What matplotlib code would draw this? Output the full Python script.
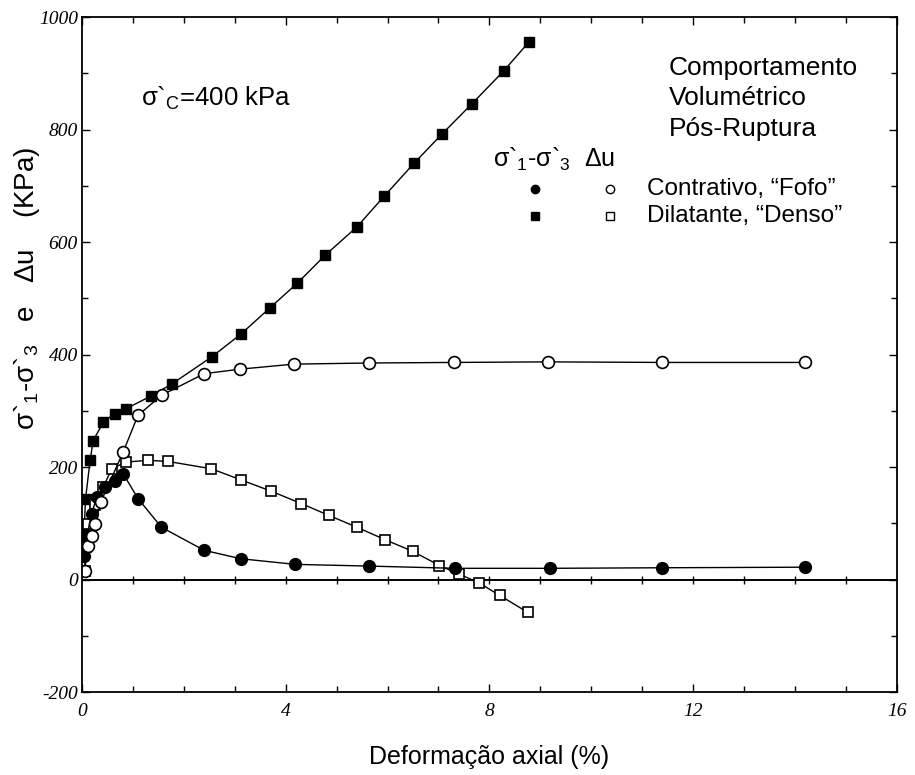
import matplotlib.pyplot as plt
import numpy as np

plt.rcParams['font.family'] = ['Liberation Sans', 'DejaVu Sans']
plt.rcParams['mathtext.fontset'] = 'custom'
plt.rcParams['mathtext.rm'] = 'Liberation Sans'
plt.rcParams['mathtext.it'] = 'Liberation Sans:italic'

# Dilatante, "Denso" - tensao desviadora (quadrados cheios)
dens_q_x = [0.02, 0.04, 0.07, 0.16, 0.22, 0.42, 0.64, 0.87, 1.35, 1.77, 2.55, 3.13,
            3.69, 4.23, 4.78, 5.40, 5.93, 6.52, 7.07, 7.65, 8.28, 8.78]
dens_q_y = [46, 81, 144, 212, 247, 280, 295, 304, 326, 348, 396, 437,
            483, 527, 577, 627, 681, 740, 792, 845, 904, 956]

# Dilatante, "Denso" - poropressao (quadrados vazios)
dens_u_x = [0.05, 0.07, 0.12, 0.25, 0.42, 0.58, 0.87, 1.30, 1.69, 2.54, 3.13, 3.72,
            4.31, 4.85, 5.40, 5.95, 6.50, 7.02, 7.40, 7.80, 8.20, 8.75]
dens_u_y = [16, 58, 99, 132, 164, 197, 209, 212, 210, 197, 177, 157,
            135, 114, 93, 71, 50, 25, 10, -6, -28, -58]

# Contrativo, "Fofo" - tensao desviadora (circulos cheios)
fofo_q_x = [0.03, 0.09, 0.19, 0.29, 0.45, 0.64, 0.81, 1.10, 1.56, 2.40, 3.12,
            4.19, 5.63, 7.33, 9.19, 11.4, 14.2]
fofo_q_y = [42, 75, 117, 147, 165, 176, 188, 144, 93, 52, 37,
            27, 24, 20, 20, 21, 22]

# Contrativo, "Fofo" - poropressao (circulos vazios)
fofo_u_x = [0.05, 0.12, 0.19, 0.25, 0.37, 0.81, 1.10, 1.57, 2.40, 3.10,
            4.16, 5.63, 7.30, 9.15, 11.4, 14.2]
fofo_u_y = [16, 59, 78, 99, 138, 227, 292, 328, 366, 374,
            383, 385, 386, 387, 386, 386]

x_ticks = [0, 4, 8, 12, 16]
x_tick_labels = ["0", "4", "8", "12", "16"]
y_ticks = [-200, 0, 200, 400, 600, 800, 1000]
y_tick_labels = ["-200", "0", "200", "400", "600", "800", "1000"]

fig = plt.figure(figsize=(9.15, 7.75), dpi=100)
ax = fig.add_axes([0.0896, 0.107, 0.8904, 0.871])

linha = dict(color="black", lw=1.0)
ax.plot(dens_q_x, dens_q_y, marker="s", ms=7.5, mfc="black", mec="black", **linha)
ax.plot(dens_u_x, dens_u_y, marker="s", ms=7.5, mfc="white", mec="black", mew=1.2, **linha)
ax.plot(fofo_q_x, fofo_q_y, marker="o", ms=8.5, mfc="black", mec="black", **linha)
ax.plot(fofo_u_x, fofo_u_y, marker="o", ms=8.5, mfc="white", mec="black", mew=1.2, **linha)

# linha do zero com pequenos tracos
ax.axhline(0, color="black", lw=1.4, zorder=1)
tracos = np.arange(1, 16)
ax.plot(tracos, np.zeros_like(tracos), ls="none", marker="|", ms=6, color="black", mew=1.0)

ax.set_xlim(0, 16)
ax.set_ylim(-200, 1000)
ax.set_xticks(x_ticks)
ax.set_xticklabels(x_tick_labels)
ax.set_yticks(y_ticks)
ax.set_yticklabels(y_tick_labels)
ax.set_xticks(np.arange(0, 17, 1), minor=True)
ax.set_yticks(np.arange(-200, 1001, 100), minor=True)
ax.tick_params(which="both", direction="in", top=True, right=True, width=1.0)
ax.tick_params(which="major", length=6)
ax.tick_params(which="minor", length=4)
ax.tick_params(axis="y", pad=3)
ax.tick_params(axis="x", pad=8)
for lab in ax.get_xticklabels() + ax.get_yticklabels():
    lab.set_family(["Liberation Serif", "DejaVu Serif"])
    lab.set_style("italic")
    lab.set_fontsize(14)
for s in ax.spines.values():
    s.set_linewidth(1.3)

fig.text(0.535, 0.023, "Deformação axial (%)", ha="center", va="center", fontsize=18)
fig.text(0.03, 0.628, r"σ`$_1$-σ`$_3$   e   Δu    (KPa)", rotation=90,
         ha="center", va="center", fontsize=20)

ax.text(0.073, 0.880, r"σ`$_\mathrm{C}$=400 kPa", transform=ax.transAxes,
        ha="left", va="center", fontsize=18.5)
ax.text(0.72, 0.943, "Comportamento\nVolumétrico\nPós-Ruptura", transform=ax.transAxes,
        ha="left", va="top", fontsize=19, linespacing=1.35)

# legenda montada a mao
ax.text(0.504, 0.789, r"σ`$_1$-σ`$_3$  Δu", transform=ax.transAxes,
        ha="left", va="center", fontsize=18)
ax.plot([0.556], [0.746], transform=ax.transAxes, marker="o", ms=6, color="black", clip_on=False)
ax.plot([0.648], [0.746], transform=ax.transAxes, marker="o", ms=6, mfc="white", mec="black", clip_on=False)
ax.plot([0.556], [0.706], transform=ax.transAxes, marker="s", ms=6, color="black", clip_on=False)
ax.plot([0.648], [0.706], transform=ax.transAxes, marker="s", ms=6, mfc="white", mec="black", clip_on=False)
ax.text(0.694, 0.746, "Contrativo, “Fofo”", transform=ax.transAxes,
        ha="left", va="center", fontsize=17.5)
ax.text(0.694, 0.706, "Dilatante, “Denso”", transform=ax.transAxes,
        ha="left", va="center", fontsize=17.5)

fig.savefig("out.png", dpi=100)
